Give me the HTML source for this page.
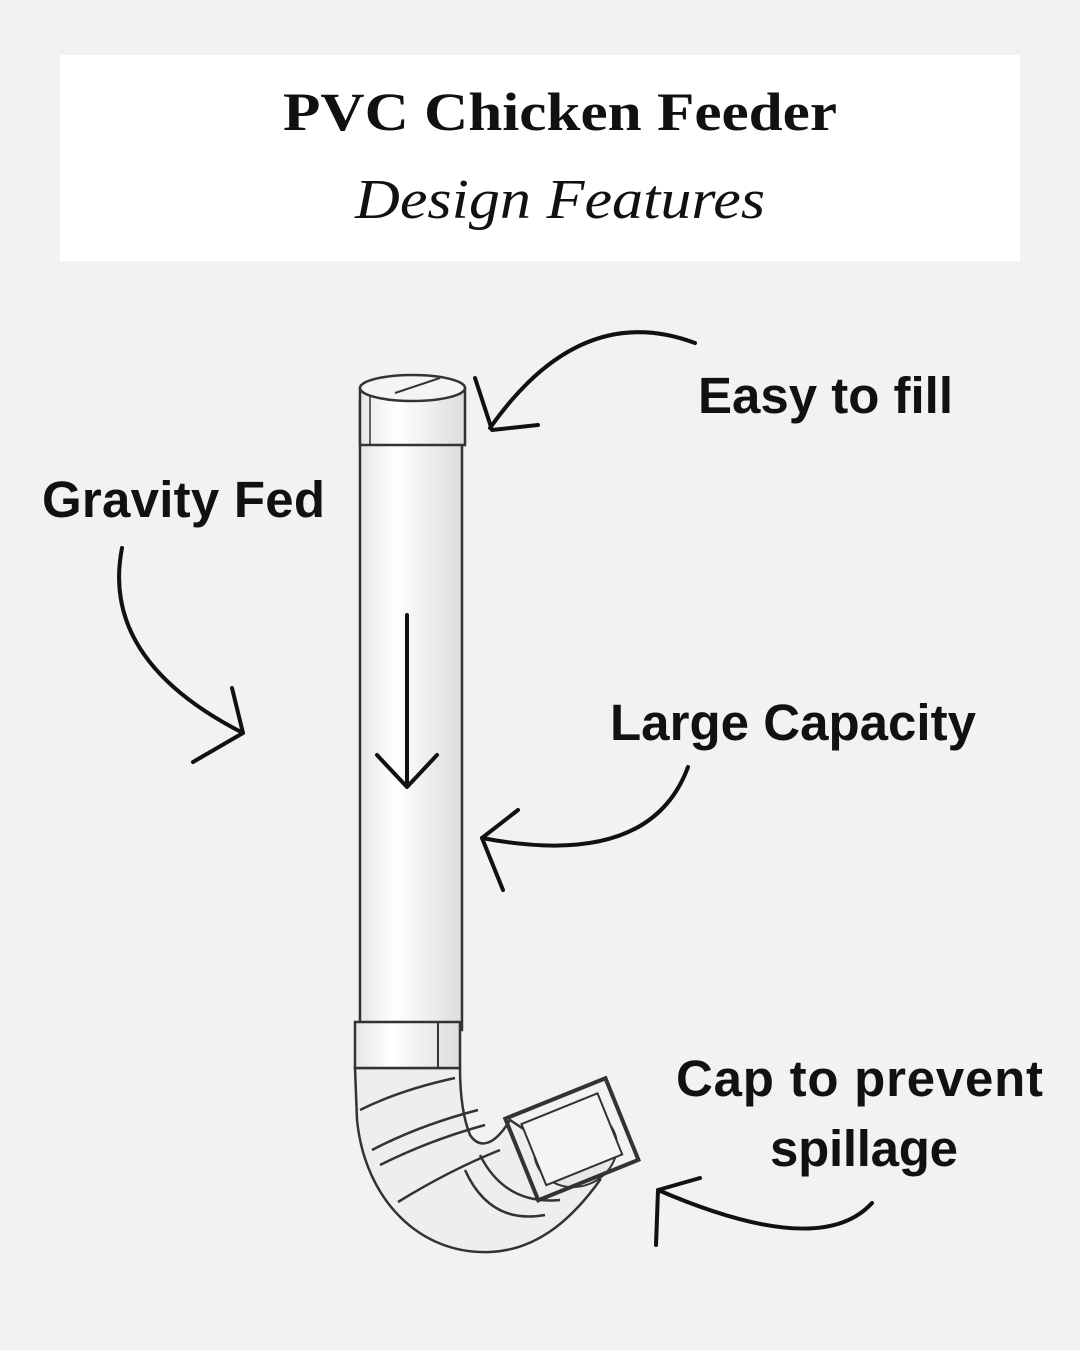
<!DOCTYPE html>
<html><head><meta charset="utf-8"><style>
html,body{margin:0;padding:0;background:#f3f2f0;}
svg{display:block}
</style></head><body>
<svg width="1080" height="1350" viewBox="0 0 1080 1350" xmlns="http://www.w3.org/2000/svg">
<rect width="1080" height="1350" fill="#f3f2f0"/>
<rect x="60" y="55" width="960" height="206" fill="#ffffff"/>
<text x="283" y="130" textLength="554" lengthAdjust="spacingAndGlyphs" font-family="Liberation Serif, serif" font-weight="bold" font-size="54" fill="#111">PVC Chicken Feeder</text>
<text x="355" y="218" textLength="410" lengthAdjust="spacingAndGlyphs" font-family="Liberation Serif, serif" font-style="italic" font-size="56" fill="#111">Design Features</text>

<defs>
<linearGradient id="g" x1="0" x2="1" y1="0" y2="0">
<stop offset="0" stop-color="#e6e6e6"/><stop offset="0.35" stop-color="#ffffff"/><stop offset="1" stop-color="#dcdcdc"/>
</linearGradient>
</defs>
<!-- elbow -->
<path d="M355 1068 L357 1120 C365 1200 420 1255 490 1252 C540 1250 575 1215 600 1180 L510 1120 C495 1145 480 1150 470 1135 C462 1115 460 1090 460 1068 Z" fill="#eeeeee" stroke="#333" stroke-width="2.5"/>
<g stroke="#333" stroke-width="2.5" fill="none">
<path d="M360 1110 Q400 1090 455 1078"/>
<path d="M372 1150 Q420 1125 478 1110"/><path d="M380 1165 Q430 1140 485 1125"/><path d="M398 1202 Q450 1170 500 1150"/>
<path d="M465 1170 Q490 1225 545 1215"/><path d="M480 1155 Q505 1205 560 1200"/>
</g>
<!-- square cap -->
<g transform="rotate(-22 570 1140)">
<ellipse cx="572" cy="1150" rx="42" ry="38" fill="#e8e8e8" stroke="#333" stroke-width="2"/>
<rect x="518" y="1096" width="108" height="88" fill="none" stroke="#333" stroke-width="4"/>
<rect x="531" y="1107" width="82" height="66" fill="#f4f4f4" stroke="#333" stroke-width="2"/>
</g>
<!-- main tube -->
<rect x="360" y="400" width="102" height="630" fill="url(#g)" stroke="#333" stroke-width="2.5"/>
<!-- coupling -->
<rect x="355" y="1022" width="105" height="46" fill="url(#g)" stroke="#333" stroke-width="2.5"/>
<line x1="438" y1="1022" x2="438" y2="1068" stroke="#333" stroke-width="2"/>
<!-- top cap -->
<rect x="360" y="388" width="105" height="57" fill="url(#g)" stroke="#333" stroke-width="2.5"/>
<ellipse cx="412.5" cy="388" rx="52.5" ry="13" fill="#f4f4f4" stroke="#333" stroke-width="2.5"/>
<line x1="395" y1="393" x2="440" y2="378" stroke="#333" stroke-width="2"/>
<line x1="370" y1="395" x2="370" y2="445" stroke="#333" stroke-width="1.5"/>

<g stroke="#111" stroke-width="4" fill="none" stroke-linecap="round" stroke-linejoin="round">
<line x1="407" y1="615" x2="407" y2="785"/><path d="M377 755 L407 787 L437 755"/>
<path d="M695 343 Q580 300 490 428"/><path d="M475 378 L492 430 L538 425"/>
<path d="M122 548 Q100 660 243 733"/><path d="M232 688 L243 733 L193 762"/>
<path d="M688 767 Q650 870 482 838"/><path d="M518 810 L482 838 L503 890"/>
<path d="M872 1203 Q820 1260 658 1190"/><path d="M700 1178 L658 1190 L656 1245"/>
</g>
<g font-family="Liberation Sans, sans-serif" font-weight="bold" font-size="51" fill="#111" lengthAdjust="spacingAndGlyphs">
<text x="698" y="413" textLength="255">Easy to fill</text>
<text x="42" y="517" textLength="283">Gravity Fed</text>
<text x="610" y="740" textLength="366">Large Capacity</text>
<text x="676" y="1096" textLength="367">Cap to prevent</text>
<text x="770" y="1166" textLength="188">spillage</text>
</g>
</svg>
</body></html>
